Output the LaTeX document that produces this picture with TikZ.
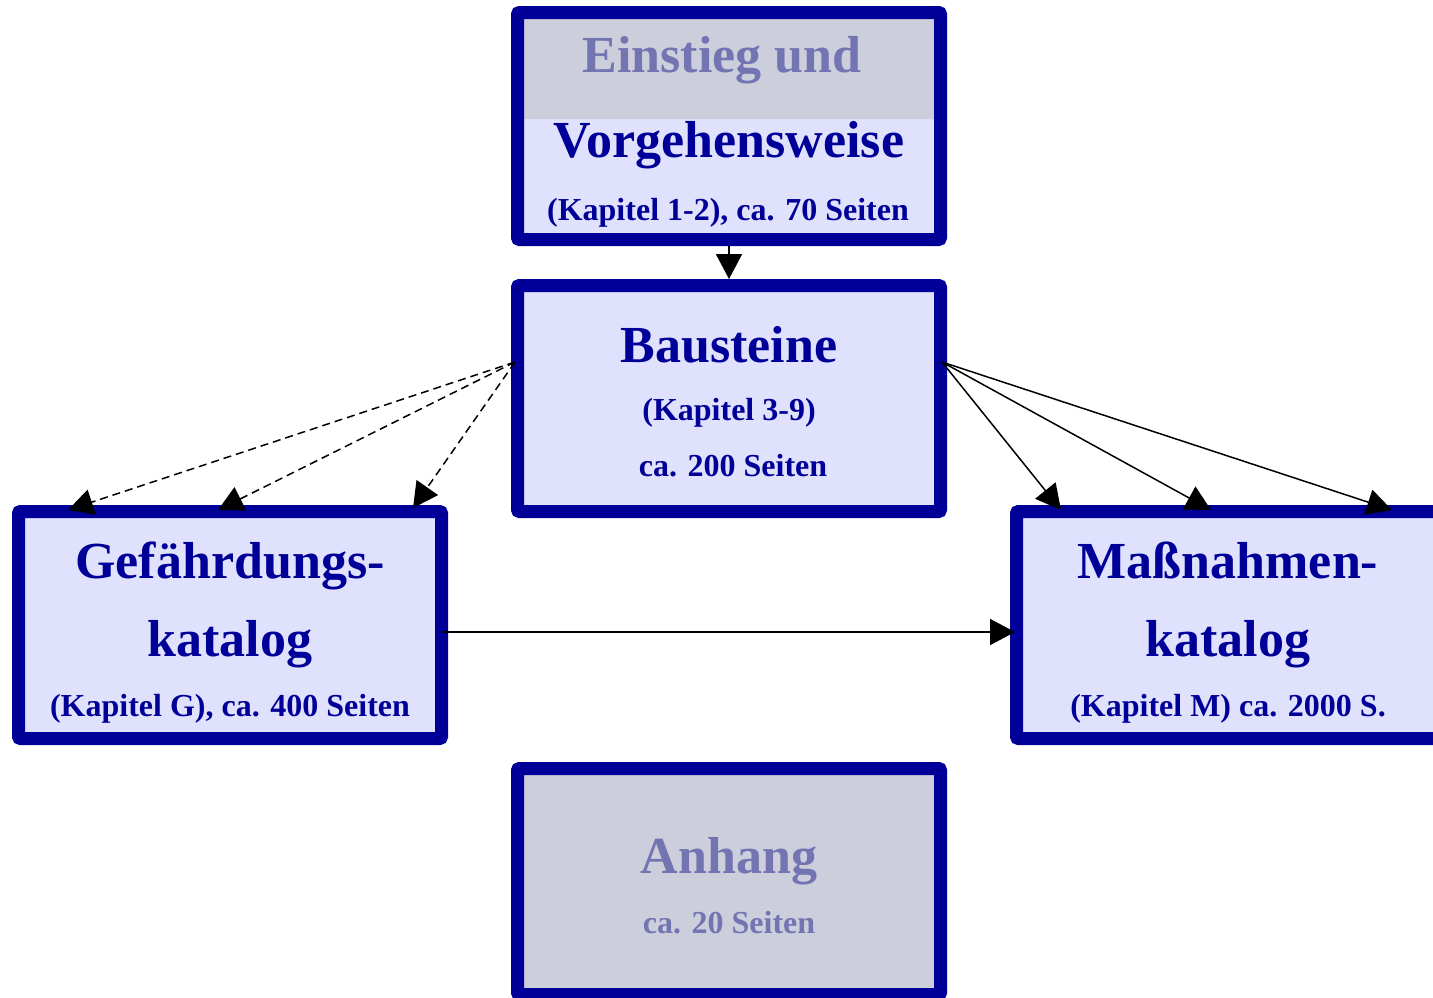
\documentclass[tikz,border=0pt]{standalone}
\usepackage{fontspec}
\setmainfont{Liberation Serif}
\usetikzlibrary{arrows.meta}
\definecolor{boxblue}{RGB}{0,0,153}
\definecolor{boxfill}{RGB}{224,225,252}
\definecolor{boxgrey}{RGB}{205,206,220}
\definecolor{greytext}{RGB}{115,116,178}

\begin{document}
\begin{tikzpicture}[
        x=0.5pt, y=-0.5pt,
        >={Triangle[length=12.5pt,width=13pt]},
        box/.style={
            rectangle,
            draw=boxblue,
            line width=6.5pt,
            rounded corners=1pt,
            fill=boxfill,
            minimum width=211.5pt,
            minimum height=113pt,
            inner sep=0pt
        },
        greybox/.style={
            box,
            fill=boxgrey
        },
        big/.style={
            anchor=base,
            font=\fontsize{26}{30}\selectfont\bfseries,
            text=boxblue
        },
        small/.style={
            anchor=base,
            font=\fontsize{16}{19}\selectfont\bfseries,
            text=boxblue
        },
        ptr/.style={
            ->,
            line width=0.75pt
        },
        dptr/.style={
            ptr,
            dash pattern=on 4pt off 2.5pt
        }
    ]

    \useasboundingbox (0,0) rectangle (1433,997);

    % boxes
    \node[box, minimum height=113.5pt,
          path picture={\fill[boxgrey] (path picture bounding box.north west)
              rectangle ([yshift=-53.25pt]path picture bounding box.north east);}]
          (einstieg) at (729,126) {};
    \node[box] (baust) at (729,398.5) {};
    \node[box, minimum height=113.5pt] (gef) at (230,625) {};
    \node[box, minimum height=113.5pt] (mass) at (1228,625) {};
    \node[greybox] (anh) at (729,881.5) {};

    % texts
    \node[big, text=greytext] (t1) at (722,72) {Einstieg und};
    \node[big] (t2) at (729,157) {Vorgehensweise};
    \node[small] (t3) at (728,220) {(Kapitel 1-2), ca. 70 Seiten};

    \node[big] (b1) at (729,362) {Bausteine};
    \node[small] (b2) at (729,420) {(Kapitel 3-9)};
    \node[small] (b3) at (733,476) {ca. 200 Seiten};

    \node[big] (g1) at (230,578) {Gefährdungs-};
    \node[big] (g2) at (230,656) {katalog};
    \node[small] (g3) at (230,716) {(Kapitel G), ca. 400 Seiten};

    \node[big] (m1) at (1228,578) {Maßnahmen-};
    \node[big] (m2) at (1228,656) {katalog};
    \node[small] (m3) at (1228,716) {(Kapitel M) ca. 2000 S.};

    \node[big, text=greytext] (a1) at (729,873) {Anhang};
    \node[small, text=greytext] (a2) at (729,933) {ca. 20 Seiten};

    % connectors
    \coordinate (bw) at (515,362);
    \coordinate (be) at (942,362);
    \coordinate (gw1) at (68,510);
    \coordinate (gw2) at (218,510);
    \coordinate (gw3) at (413,508);
    \coordinate (me1) at (1061,510);
    \coordinate (me2) at (1211,510);
    \coordinate (me3) at (1392,510);
    \coordinate (gout) at (442,632);
    \coordinate (min) at (1015,632);

    \draw[ptr, line width=1pt] (einstieg.south) -- (baust.north);

    \foreach \t in {gw1,gw2,gw3} {
        \draw[dptr] (bw) -- (\t);
    }
    \foreach \t in {me1,me2,me3} {
        \draw[ptr] (be) -- (\t);
    }

    \draw[ptr] (gout) -- (min);

    \end{tikzpicture}
\end{document}
